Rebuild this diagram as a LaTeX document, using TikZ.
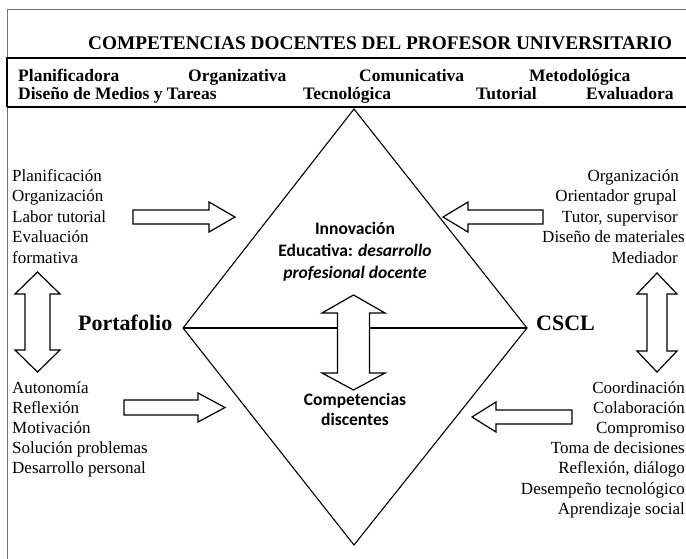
\documentclass[tikz,border=0pt]{standalone}
\usepackage{fontspec}
\setmainfont{Liberation Serif}
\newfontfamily\calibfont{Carlito}
\begin{document}
\begin{tikzpicture}[x=1pt,y=-1pt,
  bodytxt/.style={font=\fontsize{17}{20}\selectfont, inner sep=0pt},
  rowtxt/.style={font=\bfseries\fontsize{17.5}{21}\selectfont, inner sep=0pt, anchor=base west},
  bigtxt/.style={font=\bfseries\fontsize{22}{26}\selectfont, inner sep=0pt, anchor=base west},
  centxt/.style={font=\calibfont\bfseries\fontsize{17.5}{21}\selectfont, inner sep=0pt, anchor=base},
  blockarrow/.style={draw=black, fill=white, line width=1.2pt, line join=miter},
  diamline/.style={draw=black, line width=1.1pt}
]
\useasboundingbox (0,0) rectangle (686,558);
% outer frame
\draw[black!55, line width=0.9pt] (7,560) -- (7,9) -- (690,9);
% competency box
\draw[line width=1.1pt] (690,58) -- (7,58) -- (7,107);
\draw[line width=2pt] (7,107) -- (690,107);
% title
\node[font=\bfseries\fontsize{19.3}{23}\selectfont, inner sep=0pt, anchor=base west] (title) at (88,49) {COMPETENCIAS DOCENTES DEL PROFESOR UNIVERSITARIO};
% competency rows
\node[rowtxt] (c1) at (18,81) {Planificadora};
\node[rowtxt] (c2) at (188,81) {Organizativa};
\node[rowtxt] (c3) at (359,81) {Comunicativa};
\node[rowtxt] (c4) at (529,81) {Metodológica};
\node[rowtxt] (c5) at (18,99) {Diseño de Medios y Tareas};
\node[rowtxt] (c6) at (303,99) {Tecnológica};
\node[rowtxt] (c7) at (476,99) {Tutorial};
\node[rowtxt] (c8) at (586,99) {Evaluadora};
% diamond
\coordinate (dT) at (354,109);
\coordinate (dB) at (354,545);
\coordinate (dL) at (183,328);
\coordinate (dR) at (527,328);
\draw[diamline] (dT) -- (dR) -- (dB) -- (dL) -- cycle;
\draw[diamline] (dL) -- (dR);
% central texts
\node[centxt] (inn1) at (355,234) {Innovación};
\node[centxt] (inn2) at (355,256) {Educativa: \itshape desarrollo};
\node[centxt] (inn3) at (355,278) {\itshape profesional docente};
\node[centxt] (cd1) at (355,405) {Competencias};
\node[centxt] (cd2) at (355,425) {discentes};
% central double arrow
\draw[blockarrow] (353.5,295) -- (385,313) -- (369.5,313) -- (369.5,373) -- (385,373) -- (353.5,390)
  -- (322,373) -- (337.5,373) -- (337.5,313) -- (322,313) -- cycle;
% side labels
\node[bigtxt] (porta) at (78,330) {Portafolio};
\node[bigtxt] (cscl) at (536,330) {CSCL};
% left top list
\foreach \t [count=\i] in {Planificación, Organización, Labor tutorial, Evaluación, formativa}
  \node[bodytxt, anchor=base west] (lt\i) at (12,{181+20.5*(\i-1)}) {\t};
% left bottom list
\foreach \t [count=\i] in {Autonomía, Reflexión, Motivación, Solución problemas, Desarrollo personal}
  \node[bodytxt, anchor=base west] (lb\i) at (12,{393+20*(\i-1)}) {\t};
% right top list
\foreach \t/\e [count=\i] in {Organización/679, Orientador grupal/677, {Tutor, supervisor}/678, Diseño de materiales/685, Mediador/678}
  \node[bodytxt, anchor=base east] (rt\i) at (\e,{181+20.5*(\i-1)}) {\t};
% right bottom list
\foreach \t [count=\i] in {Coordinación, Colaboración, Compromiso, Toma de decisiones, {Reflexión, diálogo}, Desempeño tecnológico, Aprendizaje social}
  \node[bodytxt, anchor=base east] (rb\i) at (685,{393+20.2*(\i-1)}) {\t};
% horizontal block arrows
\draw[blockarrow] (133,210) -- (209,210) -- (209,202) -- (235,217) -- (209,232) -- (209,224) -- (133,224) -- cycle;
\draw[blockarrow] (124,400) -- (198,400) -- (198,393) -- (225,407.5) -- (198,422) -- (198,415) -- (124,415) -- cycle;
\draw[blockarrow] (543,210) -- (468,210) -- (468,202) -- (443,217) -- (468,232) -- (468,224) -- (543,224) -- cycle;
\draw[blockarrow] (572,410) -- (496,410) -- (496,402) -- (472,417) -- (496,432) -- (496,424) -- (572,424) -- cycle;
% vertical double arrows
\draw[blockarrow] (37.5,272) -- (60,294) -- (50,294) -- (50,350) -- (60,350) -- (37.5,372)
  -- (15,350) -- (25,350) -- (25,294) -- (15,294) -- cycle;
\draw[blockarrow] (657,273) -- (677,294) -- (667,294) -- (667,351) -- (677,351) -- (657,372)
  -- (637,351) -- (647,351) -- (647,294) -- (637,294) -- cycle;
\end{tikzpicture}
\end{document}
